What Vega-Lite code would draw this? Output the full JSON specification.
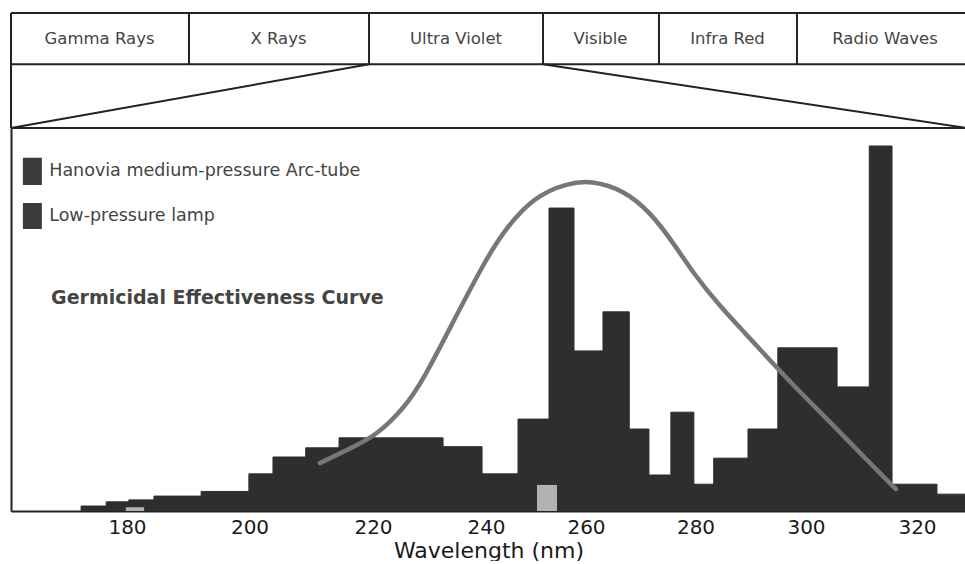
{
  "$schema": "https://vega.github.io/schema/vega-lite/v6.json",
  "padding": {"left": 10, "top": 12, "right": 0, "bottom": 0},
  "bounds": "flush",
  "spacing": 0,
  "config": {"view": {"stroke": null}, "font": "DejaVu Sans"},
  "datasets": {
    "bandLines": [
      {"x1": 0, "y1": 100, "x2": 100, "y2": 100},
      {"x1": 0, "y1": 55.4, "x2": 100, "y2": 55.4},
      {"x1": 0, "y1": 0, "x2": 0, "y2": 100},
      {"x1": 18.64, "y1": 55.4, "x2": 18.64, "y2": 100},
      {"x1": 37.49, "y1": 55.4, "x2": 37.49, "y2": 100},
      {"x1": 55.71, "y1": 55.4, "x2": 55.71, "y2": 100},
      {"x1": 67.85, "y1": 55.4, "x2": 67.85, "y2": 100},
      {"x1": 82.3, "y1": 55.4, "x2": 82.3, "y2": 100},
      {"x1": 37.49, "y1": 55.4, "x2": 0, "y2": 0},
      {"x1": 55.71, "y1": 55.4, "x2": 100, "y2": 0},
      {"x1": 0, "y1": 0, "x2": 100, "y2": 0}
    ],
    "bands": [
      {"band": "Gamma Rays", "mid": 9.27},
      {"band": "X Rays", "mid": 28.01},
      {"band": "Ultra Violet", "mid": 46.6},
      {"band": "Visible", "mid": 61.73},
      {"band": "Infra Red", "mid": 75.03},
      {"band": "Radio Waves", "mid": 91.52}
    ],
    "arc": [
      {"start": 172.5, "end": 176.6, "intensity": 1.3},
      {"start": 176.6, "end": 180.3, "intensity": 2.4},
      {"start": 180.3, "end": 184.4, "intensity": 2.9},
      {"start": 184.4, "end": 192.1, "intensity": 3.9},
      {"start": 192.1, "end": 199.9, "intensity": 5.1},
      {"start": 199.9, "end": 203.8, "intensity": 9.7},
      {"start": 203.8, "end": 209.1, "intensity": 14.1},
      {"start": 209.1, "end": 214.5, "intensity": 16.5},
      {"start": 214.5, "end": 232.4, "intensity": 19.1},
      {"start": 232.4, "end": 239.3, "intensity": 16.8},
      {"start": 239.3, "end": 246.4, "intensity": 9.7},
      {"start": 246.4, "end": 252.6, "intensity": 24.0},
      {"start": 252.6, "end": 257.6, "intensity": 79.1},
      {"start": 257.6, "end": 263.1, "intensity": 41.8},
      {"start": 263.1, "end": 267.9, "intensity": 52.0},
      {"start": 267.9, "end": 271.5, "intensity": 21.4},
      {"start": 271.5, "end": 275.5, "intensity": 9.4},
      {"start": 275.5, "end": 279.7, "intensity": 25.8},
      {"start": 279.7, "end": 283.3, "intensity": 7.0},
      {"start": 283.3, "end": 289.5, "intensity": 13.8},
      {"start": 289.5, "end": 294.9, "intensity": 21.4},
      {"start": 294.9, "end": 305.6, "intensity": 42.6},
      {"start": 305.6, "end": 311.4, "intensity": 32.4},
      {"start": 311.4, "end": 315.5, "intensity": 95.3},
      {"start": 315.5, "end": 323.6, "intensity": 7.0},
      {"start": 323.6, "end": 330.0, "intensity": 4.4}
    ],
    "lowp": [
      {"start": 179.8, "end": 182.8, "intensity": 1.0},
      {"start": 250.2, "end": 254.2, "intensity": 6.8}
    ],
    "curve": [
      {"wavelength": 211.4, "effectiveness": 12.5},
      {"wavelength": 216.4, "effectiveness": 16.4},
      {"wavelength": 220.5, "effectiveness": 19.6},
      {"wavelength": 225.5, "effectiveness": 26.9},
      {"wavelength": 228.8, "effectiveness": 33.9},
      {"wavelength": 234.7, "effectiveness": 50.9},
      {"wavelength": 239.1, "effectiveness": 63.2},
      {"wavelength": 243.0, "effectiveness": 72.3},
      {"wavelength": 249.6, "effectiveness": 82.2},
      {"wavelength": 256.4, "effectiveness": 85.6},
      {"wavelength": 260.9, "effectiveness": 86.3},
      {"wavelength": 266.9, "effectiveness": 83.8},
      {"wavelength": 271.9, "effectiveness": 77.8},
      {"wavelength": 276.1, "effectiveness": 69.7},
      {"wavelength": 279.7, "effectiveness": 61.9},
      {"wavelength": 284.1, "effectiveness": 54.0},
      {"wavelength": 288.8, "effectiveness": 46.7},
      {"wavelength": 294.9, "effectiveness": 37.1},
      {"wavelength": 299.1, "effectiveness": 30.8},
      {"wavelength": 304.5, "effectiveness": 23.0},
      {"wavelength": 309.9, "effectiveness": 14.9},
      {"wavelength": 316.2, "effectiveness": 5.7}
    ],
    "legend": [
      {"label": "Hanovia medium-pressure Arc-tube", "x1": 163.0, "x2": 166.1, "y1": 92.2, "y2": 85.1, "tx": 167.3, "ty": 88.8},
      {"label": "Low-pressure lamp", "x1": 163.0, "x2": 166.1, "y1": 80.4, "y2": 73.6, "tx": 167.3, "ty": 77.0}
    ],
    "note": [
      {"label": "Germicidal Effectiveness Curve", "tx": 167.6, "ty": 55.6}
    ]
  },
  "vconcat": [
    {
      "width": 955,
      "height": 115,
      "layer": [
        {
          "data": {"name": "bandLines"},
          "mark": {"type": "rule", "color": "#222", "strokeWidth": 2},
          "encoding": {
            "x": {"field": "x1", "type": "quantitative", "scale": {"domain": [0, 100]}, "axis": null},
            "x2": {"field": "x2"},
            "y": {"field": "y1", "type": "quantitative", "scale": {"domain": [0, 100]}, "axis": null},
            "y2": {"field": "y2"}
          }
        },
        {
          "data": {"name": "bands"},
          "mark": {"type": "text", "fontSize": 16.5, "color": "#444", "baseline": "middle"},
          "encoding": {
            "x": {"field": "mid", "type": "quantitative"},
            "y": {"datum": 77.4},
            "text": {"field": "band"}
          }
        }
      ]
    },
    {
      "width": 955,
      "height": 383,
      "layer": [
        {
          "data": {"name": "arc"},
          "mark": {"type": "rect", "color": "#2e2e2e", "stroke": "#2e2e2e", "strokeWidth": 1, "clip": true},
          "encoding": {
            "x": {"field": "start", "type": "quantitative",
              "scale": {"domain": [161.06, 180, 200, 220, 240, 260, 280, 300, 320, 328.83], "range": [0, 116, 238.5, 362, 475, 575, 684.5, 795, 906, 955], "nice": false, "zero": false},
              "axis": {"values": [180, 200, 220, 240, 260, 280, 300, 320], "ticks": false, "grid": false, "labelFontSize": 20, "labelColor": "#1a1a1a", "labelPadding": 6, "domainColor": "#222", "domainWidth": 2, "title": "Wavelength (nm)", "titleFontSize": 22, "titleFontWeight": "normal", "titleColor": "#1a1a1a", "titlePadding": 3}},
            "x2": {"field": "end"},
            "y": {"field": "intensity", "type": "quantitative", "scale": {"domain": [0, 100]},
              "axis": {"labels": false, "ticks": false, "grid": false, "title": null, "domainColor": "#222", "domainWidth": 2}},
            "y2": {"datum": 0}
          }
        },
        {
          "data": {"name": "lowp"},
          "mark": {"type": "rect", "color": "#b2b2b2"},
          "encoding": {
            "x": {"field": "start", "type": "quantitative"},
            "x2": {"field": "end"},
            "y": {"field": "intensity", "type": "quantitative"},
            "y2": {"datum": 0}
          }
        },
        {
          "data": {"name": "curve"},
          "mark": {"type": "line", "color": "#777", "strokeWidth": 4.5, "interpolate": "basis", "strokeCap": "round"},
          "encoding": {
            "x": {"field": "wavelength", "type": "quantitative"},
            "y": {"field": "effectiveness", "type": "quantitative"}
          }
        },
        {
          "data": {"name": "legend"},
          "mark": {"type": "rect", "color": "#3c3c3c"},
          "encoding": {
            "x": {"field": "x1", "type": "quantitative"},
            "x2": {"field": "x2"},
            "y": {"field": "y1", "type": "quantitative"},
            "y2": {"field": "y2"}
          }
        },
        {
          "data": {"name": "legend"},
          "mark": {"type": "text", "fontSize": 17.5, "color": "#444", "align": "left", "baseline": "middle"},
          "encoding": {
            "x": {"field": "tx", "type": "quantitative"},
            "y": {"field": "ty", "type": "quantitative"},
            "text": {"field": "label"}
          }
        },
        {
          "data": {"name": "note"},
          "mark": {"type": "text", "fontSize": 19, "fontWeight": "bold", "color": "#444", "align": "left", "baseline": "middle"},
          "encoding": {
            "x": {"field": "tx", "type": "quantitative"},
            "y": {"field": "ty", "type": "quantitative"},
            "text": {"field": "label"}
          }
        }
      ]
    }
  ]
}
